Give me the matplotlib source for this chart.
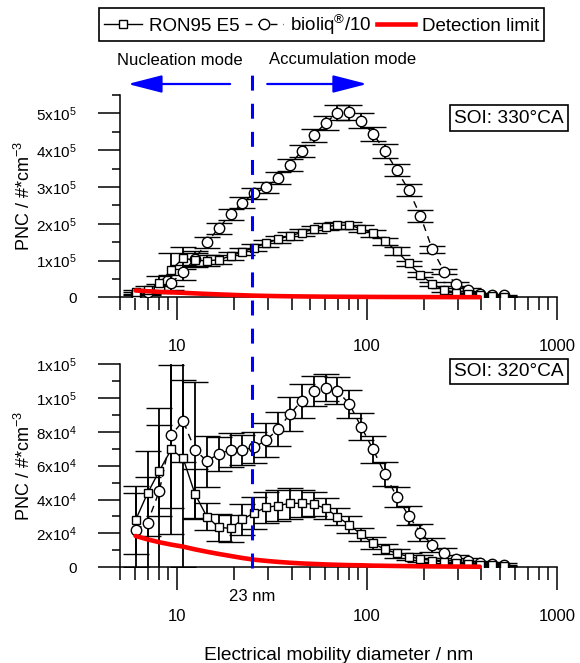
import matplotlib
matplotlib.use("Agg")
import matplotlib.pyplot as plt
import numpy as np
import matplotlib.transforms as mtransforms
from matplotlib.lines import Line2D
from matplotlib.patches import FancyArrowPatch
from matplotlib.ticker import FixedLocator, LogLocator, MultipleLocator, NullFormatter

plt.rcParams['font.family'] = ['Liberation Sans', 'DejaVu Sans']
plt.rcParams['mathtext.fontset'] = 'custom'
plt.rcParams['mathtext.rm'] = 'Liberation Sans'
plt.rcParams['mathtext.it'] = 'Liberation Sans:italic'
plt.rcParams['mathtext.bf'] = 'Liberation Sans:bold'

# electrical mobility diameter of the size classes (nm)
diam = [6.04, 6.98, 8.06, 9.31, 10.75, 12.41, 14.33, 16.55, 19.11, 22.07, 25.48,
        29.43, 33.98, 39.24, 45.31, 52.33, 60.43, 69.78, 80.58, 93.05, 107.5, 124.1,
        143.3, 165.5, 191.1, 220.7, 254.8, 294.3, 339.8, 392.4, 453.1, 523.3]

# SOI 330 CA  (x 1e5 #/cm3)
ron330 = [0.15, 0.20, 0.38, 0.75, 1.06, 1.01, 0.99, 1.02, 1.12, 1.24, 1.35, 1.47,
          1.58, 1.67, 1.76, 1.85, 1.92, 1.96, 1.96, 1.87, 1.74, 1.52, 1.26, 0.92,
          0.61, 0.36, 0.20, 0.13, 0.08, 0.05, 0.03, 0.02]
ron330_err = [0.05, 0.10, 0.20, 0.45, 0.30, 0.20, 0.15, 0.12, 0.10, 0.10, 0.10, 0.10,
              0.10, 0.10, 0.10, 0.10, 0.10, 0.10, 0.10, 0.10, 0.10, 0.10, 0.10, 0.08,
              0.07, 0.06, 0.05, 0.04, 0.03, 0.02, 0.02, 0.01]
bio330 = [0.10, 0.15, 0.25, 0.40, 0.68, 1.05, 1.49, 1.88, 2.26, 2.57, 2.83, 2.99,
          3.25, 3.60, 3.98, 4.40, 4.74, 5.02, 5.03, 4.80, 4.45, 3.98, 3.46, 2.92,
          2.21, 1.30, 0.70, 0.36, 0.20, 0.09, 0.07, 0.05]
bio330_err = [0.05, 0.08, 0.12, 0.20, 0.20, 0.20, 0.15, 0.15, 0.15, 0.15, 0.15, 0.15,
              0.16, 0.16, 0.17, 0.18, 0.19, 0.20, 0.20, 0.20, 0.19, 0.18, 0.17, 0.16,
              0.15, 0.10, 0.06, 0.05, 0.04, 0.03, 0.02, 0.01]

# SOI 320 CA  (x 1e4 #/cm3)
ron320 = [2.79, 4.37, 5.70, 6.96, 6.43, 4.33, 2.99, 2.36, 2.30, 2.83, 3.22, 3.54,
          3.64, 3.78, 3.78, 3.72, 3.48, 2.99, 2.50, 1.95, 1.42, 1.06, 0.83, 0.63,
          0.50, 0.40, 0.32, 0.24, 0.20, 0.15, 0.12, 0.10]
ron320_err = [2.0, 2.5, 2.7, 5.0, 6.4, 1.5, 0.8, 0.8, 0.8, 0.9, 0.95, 0.9,
              0.9, 0.9, 0.8, 0.7, 0.6, 0.5, 0.5, 0.4, 0.35, 0.3, 0.25, 0.2,
              0.2, 0.15, 0.1, 0.1, 0.08, 0.06, 0.05, 0.04]
bio320 = [2.20, 2.63, 4.52, 7.81, 8.64, 6.93, 6.27, 6.69, 6.93, 6.93, 7.08, 7.51,
          8.15, 9.05, 9.82, 10.41, 10.60, 10.41, 9.64, 8.30, 6.96, 5.51, 4.17, 3.05,
          2.04, 1.32, 0.83, 0.50, 0.35, 0.25, 0.20, 0.15]
bio320_err = [2.2, 2.7, 4.9, 4.3, 2.4, 4.0, 1.5, 1.0, 1.0, 0.9, 0.9, 1.0,
              1.0, 1.0, 1.0, 0.9, 0.8, 0.8, 0.8, 0.8, 0.8, 0.7, 0.6, 0.55,
              0.5, 0.4, 0.3, 0.25, 0.2, 0.15, 0.1, 0.1]

# detection limit (x 1e4 #/cm3), first 30 size classes
detlim = [1.85, 1.65, 1.48, 1.34, 1.22, 1.06, 0.92, 0.79, 0.67, 0.55, 0.45, 0.38,
          0.32, 0.27, 0.23, 0.20, 0.17, 0.15, 0.13, 0.12, 0.10, 0.09, 0.08, 0.07,
          0.06, 0.055, 0.05, 0.045, 0.04, 0.035]

cut_nm = 24.9          # position of the "23 nm" line
arrow_left = (19.0, 5.5)
arrow_right = (29.8, 100.0)

top_ticks = [0, 1e5, 2e5, 3e5, 4e5, 5e5]
top_labels = ['0', r'1x10$^5$', r'2x10$^5$', r'3x10$^5$', r'4x10$^5$', r'5x10$^5$']
bot_ticks = [0, 2e4, 4e4, 6e4, 8e4, 1e5, 1.2e5]
bot_labels = ['0', r'2x10$^4$', r'4x10$^4$', r'6x10$^4$', r'8x10$^4$', r'1x10$^5$', r'1x10$^5$']

fig = plt.figure(figsize=(5.8, 6.63), dpi=100)
ax1 = fig.add_axes([0.2069, 0.5516, 0.7534, 0.3051])
ax2 = fig.add_axes([0.2069, 0.1443, 0.7534, 0.3067])


def panel(ax, scale, ron, ron_err, bio, bio_err, ylim, ticks, labels, minor):
    d = np.array(diam)
    ax.errorbar(d, np.array(bio) * scale, yerr=np.array(bio_err) * scale,
                fmt='o', ls=(0, (5, 4)), color='k', lw=1, mfc='white', mec='k',
                ms=7.5, mew=1, elinewidth=1.3, capsize=9.5, capthick=1.6, zorder=3)
    ax.errorbar(d, np.array(ron) * scale, yerr=np.array(ron_err) * scale,
                fmt='s-', color='k', lw=1, mfc='white', mec='k',
                ms=6, mew=1, elinewidth=1.3, capsize=9.5, capthick=1.6, zorder=3)
    ax.plot(d[:len(detlim)], np.array(detlim) * 1e4, color='red', lw=3.3,
            solid_capstyle='round', zorder=5, clip_on=False)
    ax.set_xscale('log')
    ax.set_xlim(5, 1000)
    ax.set_ylim(*ylim)
    ax.xaxis.set_major_locator(FixedLocator([10, 100, 1000]))
    ax.set_xticklabels(['10', '100', '1000'])
    ax.xaxis.set_minor_locator(LogLocator(base=10, subs=np.arange(2, 10)))
    ax.xaxis.set_minor_formatter(NullFormatter())
    ax.yaxis.set_major_locator(FixedLocator(ticks))
    ax.set_yticklabels(labels)
    ax.yaxis.set_minor_locator(MultipleLocator(minor))
    for s in ['top', 'right']:
        ax.spines[s].set_visible(False)
    for s in ['left', 'bottom']:
        ax.spines[s].set_linewidth(1.1)
    ax.tick_params(axis='x', which='major', length=16.5, width=1.1, pad=13.5, labelsize=12)
    ax.tick_params(axis='x', which='minor', length=9.4, width=1.1)
    ax.tick_params(axis='y', which='major', length=15.5, width=1.1, pad=15.5, labelsize=11)
    ax.tick_params(axis='y', which='minor', length=6, width=1.1)
    ax.set_ylabel('PNC / #*cm$^{-3}$', fontsize=13)
    ax.yaxis.set_label_coords(-0.197, 0.5)
    return ax


panel(ax1, 1e5, ron330, ron330_err, bio330, bio330_err, (0, 5.5e5),
      top_ticks, top_labels, 0.5e5)
panel(ax2, 1e4, ron320, ron320_err, bio320, bio320_err, (0, 1.2e5),
      bot_ticks, bot_labels, 1e4)

box = dict(boxstyle='square,pad=0.22', fc='white', ec='black', lw=1.2)
ax1.text(1.015, 0.886, 'SOI: 330°CA', transform=ax1.transAxes, ha='right', va='center',
         fontsize=13.8, bbox=box, zorder=10)
ax2.text(1.015, 0.963, 'SOI: 320°CA', transform=ax2.transAxes, ha='right', va='center',
         fontsize=13.8, bbox=box, zorder=10)

ax2.set_xlabel('Electrical mobility diameter / nm', fontsize=13.8)
ax2.xaxis.set_label_coords(0.5, -0.392)

# 23 nm line through both panels
blend2 = mtransforms.blended_transform_factory(ax2.transData, fig.transFigure)
fig.add_artist(Line2D([cut_nm, cut_nm], [0.1433, 0.8914], transform=blend2,
                      color='blue', lw=2.2, ls=(0, (4.9, 4.3)), zorder=6))
ax2.text(cut_nm, -0.141, '23 nm', transform=mtransforms.blended_transform_factory(
    ax2.transData, ax2.transAxes), ha='center', va='center', fontsize=12)

# mode arrows
blend1 = mtransforms.blended_transform_factory(ax1.transData, fig.transFigure)
for a, b in [arrow_left, arrow_right]:
    fig.add_artist(FancyArrowPatch((a, 0.8733), (b, 0.8733), transform=blend1,
                                   arrowstyle='-|>,head_length=21,head_width=5.4',
                                   mutation_scale=1, color='blue', lw=1.6,
                                   shrinkA=0, shrinkB=0))
fig.text(0.310, 0.909, 'Nucleation mode', ha='center', va='center', fontsize=12)
fig.text(0.590, 0.911, 'Accumulation mode', ha='center', va='center', fontsize=12)

# legend
h_ron = Line2D([], [], color='k', lw=1, marker='s', mfc='white', mec='k', ms=6)
h_bio = Line2D([], [], color='k', lw=1, ls=(0, (5, 4)), marker='o', mfc='white', mec='k', ms=7.5)
h_det = Line2D([], [], color='red', lw=3.3)
leg = fig.legend([h_ron, h_bio, h_det], ['RON95 E5', 'bioliq$^{®}$/10', 'Detection limit'],
                 loc='center', bbox_to_anchor=(0.555, 0.963), ncol=3, fontsize=13.5,
                 frameon=True, fancybox=False, edgecolor='black', framealpha=1,
                 handlelength=2.0, handletextpad=0.4, columnspacing=0.3,
                 borderpad=0.25, borderaxespad=0)
leg.get_frame().set_linewidth(1.2)

fig.savefig('out.png', dpi=100)
